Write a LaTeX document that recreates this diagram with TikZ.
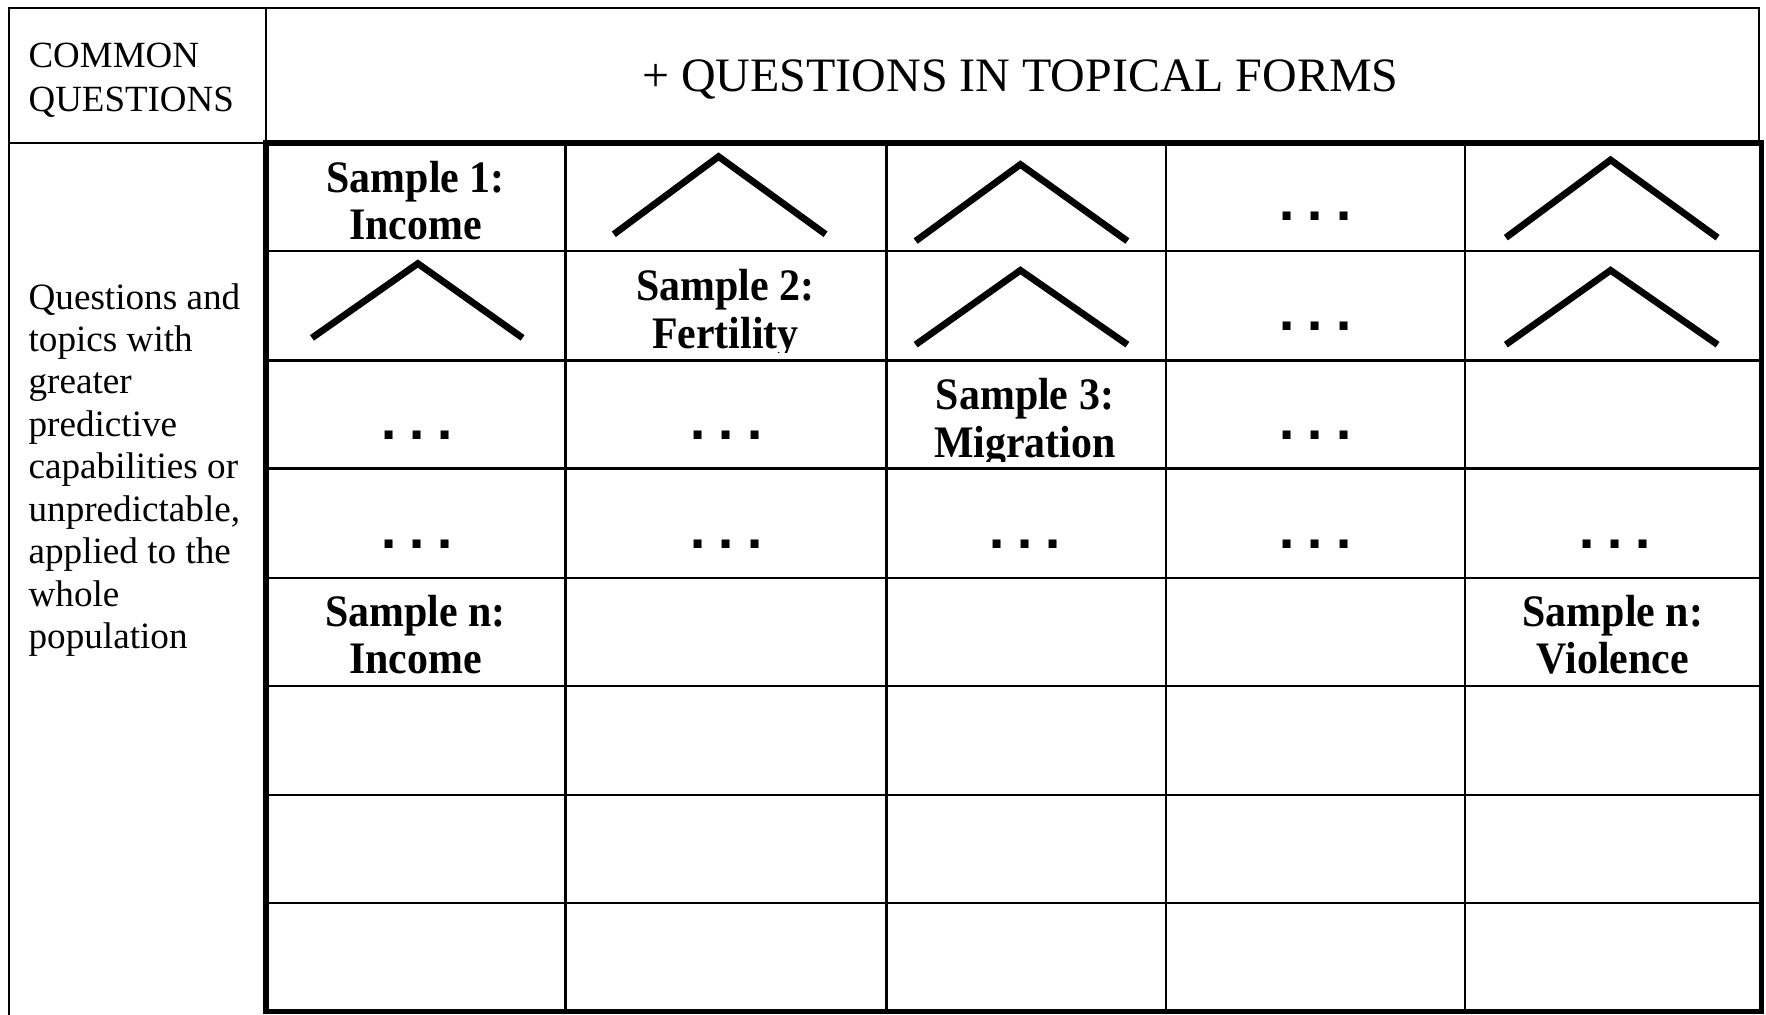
\documentclass[tikz,border=0pt]{standalone}
\usepackage{fontspec}
\setmainfont{Liberation Serif}
\newfontfamily\sampfont[FakeStretch=0.93]{Liberation Serif}
\newfontfamily\dotfont{DejaVu Sans}
\begin{document}
\begin{tikzpicture}[x=0.5pt,y=-0.5pt,
  thinline/.style={line width=1pt},
  thickborder/.style={line width=2.4pt},
  chev/.style={line width=3pt},
  samp/.style={font=\sampfont\bfseries\fontsize{20}{21}\selectfont, align=center, inner sep=0, anchor=base},
  dotsnode/.style={font=\dotfont\bfseries\fontsize{20}{21}\selectfont, inner sep=0, anchor=base},
  lefttxt/.style={font=\fontsize{16.5}{18.85}\selectfont, align=left, anchor=base west, inner sep=0}
]
\useasboundingbox[fill=white] (0,0) rectangle (1568,901);
% outer frame
\draw[thinline] (8,901) -- (8,7) -- (1562,7) -- (1562,127);
\draw[thinline] (236,7) -- (236,127);
\draw[thinline] (8,127) -- (236,127);
% inner grid
\foreach \x in {502,787,1035,1301} \draw[thinline] (\x,127) -- (\x,898);
\foreach \y in {223,320,416,513,609,706,802} \draw[thinline] (236,\y) -- (1564,\y);
\draw[thickborder] (236,127) rectangle (1564,898);
% header texts
\node[lefttxt, font=\fontsize{16.4}{19.5}\selectfont] (common) at (25,99) {COMMON\\QUESTIONS};
\node[anchor=base, inner sep=0, font=\fontsize{21.3}{24}\selectfont] (topical) at (906,81) {+ QUESTIONS IN TOPICAL FORMS};
\node[lefttxt] (lefttext) at (25,576) {Questions and\\topics with\\greater\\predictive\\capabilities or\\unpredictable,\\applied to the\\whole\\population};
% sample labels
\node[samp] (s1) at (369,213) {Sample 1:\\Income};
\begin{scope}
\clip (502,223) rectangle (787,313);
\node[samp] (s2) at (644,309) {Sample 2:\\Fertility};
\end{scope}
\begin{scope}
\clip (787,320) rectangle (1035,410);
\node[samp] (s3) at (910,406) {Sample 3:\\Migration};
\end{scope}
\node[samp] (sn1) at (369,598) {Sample n:\\Income};
\node[samp] (sn2) at (1432,598) {Sample n:\\Violence};
% chevrons
\draw[chev] (545,208) -- (638,139) -- (733,208);
\draw[chev] (813,214) -- (906,146) -- (1001,214);
\draw[chev] (1337,211) -- (1430,142) -- (1525,211);
\draw[chev] (277,300) -- (371,234) -- (464,300);
\draw[chev] (813,306) -- (906,240) -- (1001,306);
\draw[chev] (1337,306) -- (1430,240) -- (1525,306);
% dots
\newcommand{\tdots}{.\hspace{4.9pt}.\hspace{4.9pt}.}
\node[dotsnode] (d14) at (1168,196) {\tdots};
\node[dotsnode] (d24) at (1168,293) {\tdots};
\node[dotsnode] (d31) at (370,390) {\tdots};
\node[dotsnode] (d32) at (645,390) {\tdots};
\node[dotsnode] (d34) at (1168,390) {\tdots};
\node[dotsnode] (d41) at (370,487) {\tdots};
\node[dotsnode] (d42) at (645,487) {\tdots};
\node[dotsnode] (d43) at (910,487) {\tdots};
\node[dotsnode] (d44) at (1168,487) {\tdots};
\node[dotsnode] (d45) at (1434,487) {\tdots};
\end{tikzpicture}
\end{document}
